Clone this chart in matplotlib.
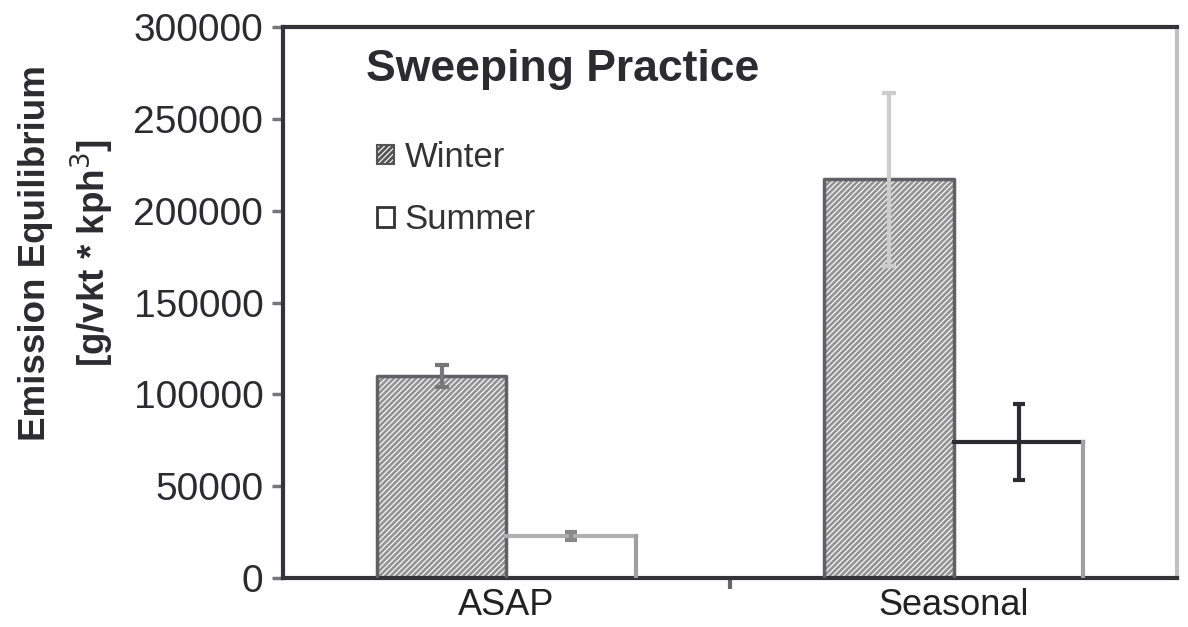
import matplotlib.pyplot as plt

plt.rcParams['font.family'] = ['Liberation Sans', 'DejaVu Sans']
plt.rcParams['hatch.linewidth'] = 2.0

categories = ["ASAP", "Seasonal"]
winter     = [110000, 217000]
winter_err = [6000, 47000]
summer     = [23000, 74000]
summer_err = [2000, 20500]

winter_errcol = ['#777777', '#cccccc']
summer_errcol = ['#888888', '#2b2b30']
summer_topcol = ['#b0b0b0', '#2b2b30']

fig = plt.figure(figsize=(11.88, 6.27), dpi=100)
ax = fig.add_axes([0.238, 0.078, 0.753, 0.879])

w = 0.29
centers = [0.5, 1.5]

for i, c in enumerate(centers):
    ax.bar(c - w/2, winter[i], width=w, color='white', edgecolor='#949494',
           hatch='//////', linewidth=0, zorder=2)
    ax.bar(c + w/2, summer[i], width=w, color='white', edgecolor='#a0a0a0',
           linewidth=0, zorder=2)
    # bar outlines
    x0 = c - w
    ax.plot([x0, x0, c, c], [0, winter[i], winter[i], 0], color='#606066', lw=2.5, zorder=3)
    ax.plot([c, c + w], [summer[i], summer[i]], color=summer_topcol[i], lw=3, zorder=3)
    ax.plot([c + w, c + w], [summer[i], 0], color='#a0a0a0', lw=3, zorder=3)
    ax.errorbar(c - w/2, winter[i], yerr=winter_err[i], fmt='none',
                ecolor=winter_errcol[i], elinewidth=3, capsize=5, capthick=3, zorder=4)
    ax.errorbar(c + w/2, summer[i], yerr=summer_err[i], fmt='none',
                ecolor=summer_errcol[i], elinewidth=3, capsize=4, capthick=3, zorder=4)

# legend proxies
hw = ax.bar(0, 0, color='white', edgecolor='#555555', hatch='//////', linewidth=1.5, label='Winter')
hs = ax.bar(0, 0, color='white', edgecolor='#333333', linewidth=2, label='Summer')
leg = ax.legend(handles=[hw, hs], loc='upper left', bbox_to_anchor=(0.07, 0.85),
                frameon=False, fontsize=25, handlelength=0.5, handleheight=0.5,
                handletextpad=0.3, labelspacing=0.85)
for t in leg.get_texts():
    t.set_color('#333333')

ax.text(0.093, 0.923, "Sweeping Practice", transform=ax.transAxes, fontsize=32,
        fontweight='bold', color='#2b2b30', va='center', ha='left')

ax.set_xlim(0, 2)
ax.set_ylim(0, 300000)
ax.set_yticks(range(0, 300001, 50000))
ax.set_xticks(centers)
ax.set_xticklabels(categories)
ax.set_xticks([1], minor=True)
ax.tick_params(axis='x', which='major', length=0, labelsize=26, pad=7, labelcolor='#222222')
ax.tick_params(axis='x', which='minor', length=8, width=3, color='#666666', direction='out')
ax.tick_params(axis='y', length=8, width=2.5, color='#777777', labelsize=28,
               labelcolor='#2b2b30', pad=6)

for s in ['left', 'bottom', 'top']:
    ax.spines[s].set_color('#333338')
    ax.spines[s].set_linewidth(3)
ax.spines['right'].set_color('#c0c0c0')
ax.spines['right'].set_linewidth(3)

ax.set_ylabel("Emission Equilibrium\n[g/vkt * kph$^3$]", fontsize=26.5, fontweight='bold',
              color='#2b2b30', linespacing=1.45)
ax.yaxis.set_label_coords(-0.186, 0.59)

fig.savefig('out.png', dpi=100)
